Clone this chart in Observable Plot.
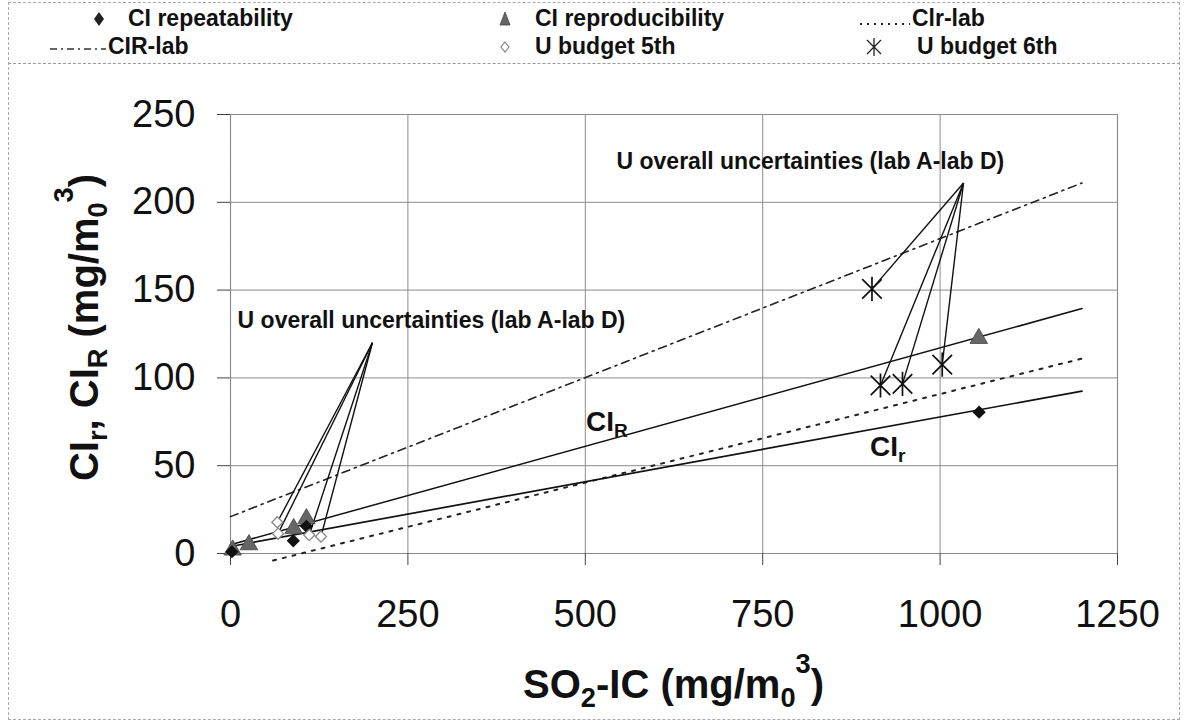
<!DOCTYPE html>
<html>
<head>
<meta charset="utf-8">
<script src="https://cdn.jsdelivr.net/npm/d3@7"></script>
<script src="https://cdn.jsdelivr.net/npm/@observablehq/plot@0.6"></script>
<style>
  body { margin: 0; background: #fff; }
  #fig { position: relative; width: 1187px; height: 724px; font-family: "Liberation Sans", Arial, sans-serif; overflow: hidden; }
  #outer { position: absolute; left: 8px; top: 2px; width: 1172px; height: 718px; border: 1px dashed #aaa; box-sizing: border-box; }
  #legend { position: absolute; left: 8px; top: 2px; width: 1172px; height: 62px; border-bottom: 1px dashed #999; box-sizing: border-box; }
  .li { position: absolute; font-weight: bold; font-size: 23px; color: #111; white-space: nowrap; line-height: 1; }
  #chart { position: absolute; left: 0; top: 64px; }
</style>
</head>
<body>
<div id="fig">
  <div id="outer"></div>
  <div id="legend"></div>
  <div id="chart"></div>
</div>
<script>
// ---------- data ----------
const xTicks = [0, 250, 500, 750, 1000, 1250];
const yTicks = [0, 50, 100, 150, 200, 250];

// CI repeatability (filled black diamonds)
const repX = [2, 88.5, 107, 1055];
const repY = [1, 7.2, 15.5, 80.5];
// CI reproducibility (grey triangles)
const reproX = [3, 26, 89, 107, 1054.5];
const reproY = [2, 5, 14.2, 19.8, 122.5];
// U budget 5th (hollow diamonds)
const u5X = [66, 67, 111, 127.5];
const u5Y = [17.8, 11.3, 10.5, 9.7];
// U budget 6th (stars)
const u6X = [904, 916, 947, 1003];
const u6Y = [150.7, 95.7, 96.6, 107.6];

// fitted lines (end points)
const ciRLineX = [0, 1200];   const ciRLineY = [5, 139.5];    // CI_R solid
const cirLineX = [0, 1200];   const cirLineY = [4, 92.5];     // CI_r solid
const cirLabX  = [60, 1200];  const cirLabY  = [-4, 111];     // CIr-lab dotted
const ciRLabX  = [0, 1200];   const ciRLabY  = [21, 211];     // CIR-lab dash-dot

// annotations
const annotText = "U overall uncertainties (lab A-lab D)";
const apexLeft = {x: 200, y: 120};
const apexRight = {x: 1033, y: 211};
const annotLeftPos = {x: 10, y: 132.5};
const annotRightPos = {x: 544, y: 223};
const labelCIR = {x: 531, y: 75, main: "CI", sub: "R"};
const labelCIr = {x: 927, y: 61, main: "CI", sub: "r"};

const legendLabels = ["CI repeatability", "CI reproducibility", "Clr-lab", "CIR-lab", "U budget 5th", "U budget 6th"];

// ---------- helpers ----------
const pts = (xs, ys) => xs.map((x, i) => ({x, y: ys[i]}));
const starSymbol = {
  draw(ctx, size) {
    const r = Math.sqrt(size / Math.PI);
    const d = r * 0.85;
    ctx.moveTo(-d, -d); ctx.lineTo(d, d);
    ctx.moveTo(d, -d); ctx.lineTo(-d, d);
    ctx.moveTo(0, -r * 1.05); ctx.lineTo(0, r * 1.05);
  }
};

const rep = pts(repX, repY), repro = pts(reproX, reproY);
const u5 = pts(u5X, u5Y), u6 = pts(u6X, u6Y);
const linksLeft = u5.map(p => ({x1: apexLeft.x, y1: apexLeft.y, x2: p.x, y2: p.y}));
const linksRight = u6.map(p => ({x1: apexRight.x, y1: apexRight.y, x2: p.x, y2: p.y}));

const font = "'Liberation Sans', Arial, sans-serif";

const svg = Plot.plot({
  width: 1187,
  height: 660,
  marginLeft: 230,
  marginRight: 70,
  marginTop: 50,
  marginBottom: 171,
  style: {fontFamily: font, fontSize: "38px", color: "#111", background: "transparent", overflow: "visible"},
  x: {domain: [0, 1250]},
  y: {domain: [0, 250]},
  marks: [
    Plot.gridX(xTicks, {stroke: "#8c8c8c", strokeOpacity: 1, strokeWidth: 1}),
    Plot.gridY(yTicks, {stroke: "#8c8c8c", strokeOpacity: 1, strokeWidth: 1}),
    Plot.frame({stroke: "#888", strokeWidth: 1.2, strokeDasharray: "2,1"}),
    Plot.axisX({ticks: xTicks, tickFormat: d => String(d), tickSize: 12, tickPadding: 35, label: null, stroke: "#444", fontSize: 38}),
    Plot.axisY({ticks: yTicks, tickFormat: d => String(d), tickSize: 13, tickPadding: 22, label: null, stroke: "#444", fontSize: 38}),
    Plot.line(pts(ciRLabX, ciRLabY), {x: "x", y: "y", stroke: "#222", strokeWidth: 1.6, strokeDasharray: "8,5,2,5"}),
    Plot.line(pts(cirLabX, cirLabY), {x: "x", y: "y", stroke: "#222", strokeWidth: 2, strokeDasharray: "3,7"}),
    Plot.line(pts(ciRLineX, ciRLineY), {x: "x", y: "y", stroke: "#111", strokeWidth: 1.5}),
    Plot.line(pts(cirLineX, cirLineY), {x: "x", y: "y", stroke: "#111", strokeWidth: 1.7}),
    Plot.link(linksLeft, {x1: "x1", y1: "y1", x2: "x2", y2: "y2", stroke: "#111", strokeWidth: 1.4}),
    Plot.link(linksRight, {x1: "x1", y1: "y1", x2: "x2", y2: "y2", stroke: "#111", strokeWidth: 1.4}),
    Plot.dot(repro, {x: "x", y: "y", symbol: "triangle", fill: "#666", stroke: "#444", strokeWidth: 0.8, r: 6.5}),
    Plot.dot(rep, {x: "x", y: "y", symbol: "diamond2", fill: "#111", stroke: "#111", r: 5}),
    Plot.dot(u5, {x: "x", y: "y", symbol: "diamond2", fill: "#fff", stroke: "#888", strokeWidth: 1.3, r: 5}),
    Plot.dot(u6, {x: "x", y: "y", symbol: starSymbol, fill: "none", stroke: "#111", strokeWidth: 1.7, r: 11.5}),
    Plot.text([annotLeftPos, annotRightPos], {x: "x", y: "y", text: () => annotText, textAnchor: "start", lineAnchor: "middle", fontSize: 23, fontWeight: "bold", fill: "#111"})
  ]
});
document.getElementById("chart").appendChild(svg);

// ---------- axis titles and line labels with sub/superscripts ----------
const sx = svg.scale("x"), sy = svg.scale("y");
const s = d3.select(svg);

function richText(g, parts, size) {
  const t = g.append("text").attr("font-family", font).attr("font-weight", "bold").attr("font-size", size).attr("fill", "#111");
  parts.forEach(p => {
    const ts = t.append("tspan").text(p.t);
    if (p.k === "sub") ts.attr("font-size", size * 0.68).attr("dy", size * 0.22);
    else if (p.k === "subsup") ts.attr("font-size", size * 0.68).attr("dy", -size * 0.84);
    else if (p.k === "back") ts.attr("dy", size * 0.62);
    else if (p.k === "back2") ts.attr("dy", -size * 0.22);
  });
  return t;
}

// y axis title
const yMid = (sy.apply(0) + sy.apply(250)) / 2;
const gy = s.append("g").attr("transform", `translate(98,${yMid - 6}) rotate(-90)`);
richText(gy, [
  {t: "CI"}, {t: "r", k: "sub"}, {t: ", CI", k: "back2"}, {t: "R", k: "sub"}, {t: " (mg/m", k: "back2"},
  {t: "0", k: "sub"}, {t: "3", k: "subsup"}, {t: ")", k: "back"}
], 40).attr("text-anchor", "middle");

// x axis title
const xMid = (sx.apply(0) + sx.apply(1250)) / 2;
const gx = s.append("g").attr("transform", `translate(${xMid},634)`);
richText(gx, [
  {t: "SO"}, {t: "2", k: "sub"}, {t: "-IC (mg/m", k: "back2"}, {t: "0", k: "sub"}, {t: "3", k: "subsup"}, {t: ")", k: "back"}
], 40).attr("text-anchor", "middle");

// line labels
[labelCIR, labelCIr].forEach(L => {
  const g = s.append("g").attr("transform", `translate(${sx.apply(L.x)},${sy.apply(L.y) + 10})`);
  richText(g, [{t: L.main}, {t: L.sub, k: "sub"}], 28);
});

// ---------- legend ----------
const legend = d3.select("#legend");
const layout = [
  {sx: 91, tx: 120, ty: 17, kind: "diamond"},
  {sx: 497, tx: 527, ty: 17, kind: "triangle"},
  {sx: 850, tx: 904, ty: 17, kind: "dotted"},
  {sx: 40, tx: 100, ty: 45, kind: "dashdot"},
  {sx: 497, tx: 527, ty: 45, kind: "hollow"},
  {sx: 866, tx: 909, ty: 45, kind: "star"}
];
legendLabels.forEach((lab, i) => {
  const L = layout[i];
  const w = (L.kind === "dotted" || L.kind === "dashdot") ? 58 : 24;
  const sw = legend.append("svg").attr("width", w).attr("height", 24)
    .style("position", "absolute").style("left", (L.sx - (w === 24 ? 12 : 0)) + "px").style("top", (L.ty - 12) + "px");
  const c = w === 24 ? 12 : 0;
  if (L.kind === "diamond") sw.append("path").attr("d", `M${c},5 L${c + 5},12 L${c},19 L${c - 5},12Z`).attr("fill", "#222");
  if (L.kind === "triangle") sw.append("path").attr("d", `M${c},5 L${c + 5},18 L${c - 5},18Z`).attr("fill", "#666").attr("stroke", "#444").attr("stroke-width", 0.8);
  if (L.kind === "hollow") sw.append("path").attr("d", `M${c},7 L${c + 4},12 L${c},17 L${c - 4},12Z`).attr("fill", "#fff").attr("stroke", "#888").attr("stroke-width", 1.2);
  if (L.kind === "star") sw.append("path").attr("d", `M${c - 7},5 L${c + 7},19 M${c + 7},5 L${c - 7},19 M${c},3 L${c},21`).attr("stroke", "#222").attr("stroke-width", 1.3).attr("fill", "none");
  if (L.kind === "dotted") sw.append("line").attr("x1", 2).attr("x2", 52).attr("y1", 17).attr("y2", 17).attr("stroke", "#222").attr("stroke-width", 2).attr("stroke-dasharray", "2,5");
  if (L.kind === "dashdot") sw.append("line").attr("x1", 2).attr("x2", 58).attr("y1", 14).attr("y2", 14).attr("stroke", "#333").attr("stroke-width", 1.4).attr("stroke-dasharray", "7,4,2,4");
  legend.append("div").attr("class", "li").style("left", L.tx + "px").style("top", (L.ty - 12) + "px").text(lab);
});
</script>
</body>
</html>
